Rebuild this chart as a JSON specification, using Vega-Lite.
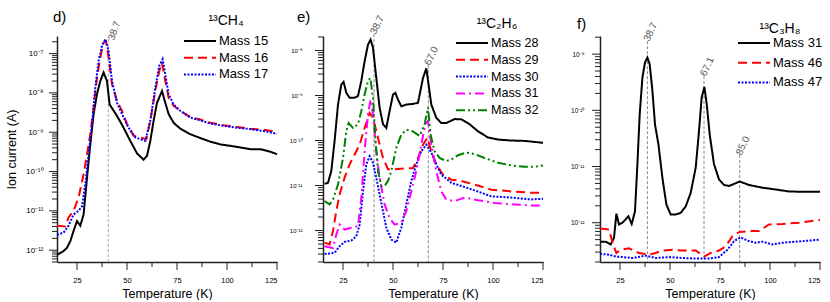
{
  "$schema": "https://vega.github.io/schema/vega-lite/v6.json",
  "padding": {"left": 5, "top": 10, "right": 0, "bottom": 0},
  "spacing": 8,
  "config": {
    "font": "Liberation Sans",
    "view": {"stroke": null},
    "axis": {"grid": false, "domain": true, "domainColor": "#222222", "domainWidth": 1.5, "ticks": false, "tickSize": 0, "labelColor": "#000000", "titleColor": "#000000", "titleFontWeight": "normal"},
    "legend": {"padding": 0, "symbolType": "stroke", "symbolSize": 1024, "symbolStrokeWidth": 2, "clipHeight": 13, "labelOffset": 2, "titleFontWeight": "normal", "titleColor": "#000", "labelColor": "#000", "titleAnchor": "middle", "titleLimit": 300, "labelLimit": 300},
    "title": {"fontWeight": "normal", "color": "#000", "anchor": "start", "fontSize": 15, "frame": "group"}
  },
  "datasets": {
    "d": [
      {"T":15,"I":7.6e-13,"s":"Mass 15"},{"T":18.3,"I":9.5e-13,"s":"Mass 15"},{"T":20,"I":1.15e-12,"s":"Mass 15"},{"T":21.65,"I":1.7e-12,"s":"Mass 15"},{"T":23.3,"I":3.1e-12,"s":"Mass 15"},{"T":25,"I":5.5e-12,"s":"Mass 15"},{"T":26.65,"I":4.2e-12,"s":"Mass 15"},{"T":28.3,"I":8.1e-12,"s":"Mass 15"},{"T":30,"I":6.9e-11,"s":"Mass 15"},{"T":31.65,"I":4.9e-10,"s":"Mass 15"},{"T":33.3,"I":2.9e-9,"s":"Mass 15"},{"T":35,"I":9.3e-9,"s":"Mass 15"},{"T":36.65,"I":2.0e-8,"s":"Mass 15"},{"T":38.3,"I":3.3e-8,"s":"Mass 15"},{"T":40,"I":2.0e-8,"s":"Mass 15"},{"T":41.3,"I":5.1e-9,"s":"Mass 15"},{"T":42.5,"I":4.1e-9,"s":"Mass 15"},{"T":45,"I":2.6e-9,"s":"Mass 15"},{"T":48.3,"I":1.3e-9,"s":"Mass 15"},{"T":51.65,"I":6.0e-10,"s":"Mass 15"},{"T":55,"I":2.9e-10,"s":"Mass 15"},{"T":58.3,"I":2.0e-10,"s":"Mass 15"},{"T":60,"I":2.5e-10,"s":"Mass 15"},{"T":61.65,"I":6.0e-10,"s":"Mass 15"},{"T":63.3,"I":1.95e-9,"s":"Mass 15"},{"T":65,"I":5.6e-9,"s":"Mass 15"},{"T":67.5,"I":1.12e-8,"s":"Mass 15"},{"T":69.15,"I":5.6e-9,"s":"Mass 15"},{"T":70.8,"I":2.9e-9,"s":"Mass 15"},{"T":73.3,"I":1.74e-9,"s":"Mass 15"},{"T":76.65,"I":1.23e-9,"s":"Mass 15"},{"T":81.65,"I":8.9e-10,"s":"Mass 15"},{"T":86.65,"I":7.1e-10,"s":"Mass 15"},{"T":91.65,"I":5.75e-10,"s":"Mass 15"},{"T":96.65,"I":4.9e-10,"s":"Mass 15"},{"T":101.65,"I":4.5e-10,"s":"Mass 15"},{"T":106.65,"I":4.1e-10,"s":"Mass 15"},{"T":111.65,"I":3.7e-10,"s":"Mass 15"},{"T":116.65,"I":3.7e-10,"s":"Mass 15"},{"T":121.65,"I":3.2e-10,"s":"Mass 15"},{"T":125,"I":2.75e-10,"s":"Mass 15"},
      {"T":15,"I":4.2e-12,"s":"Mass 16"},{"T":19.15,"I":4.0e-12,"s":"Mass 16"},{"T":20.8,"I":6.8e-12,"s":"Mass 16"},{"T":23.3,"I":1.0e-11,"s":"Mass 16"},{"T":25.8,"I":2.2e-11,"s":"Mass 16"},{"T":28.3,"I":8.5e-11,"s":"Mass 16"},{"T":30,"I":2.75e-10,"s":"Mass 16"},{"T":31.65,"I":8.9e-10,"s":"Mass 16"},{"T":33.3,"I":4.3e-9,"s":"Mass 16"},{"T":35,"I":2.45e-8,"s":"Mass 16"},{"T":36.65,"I":7.9e-8,"s":"Mass 16"},{"T":38.3,"I":1.9e-7,"s":"Mass 16"},{"T":39.5,"I":2.1e-7,"s":"Mass 16"},{"T":40.8,"I":7.9e-8,"s":"Mass 16"},{"T":42.5,"I":1.66e-8,"s":"Mass 16"},{"T":45,"I":6.3e-9,"s":"Mass 16"},{"T":47.5,"I":3.5e-9,"s":"Mass 16"},{"T":50,"I":1.6e-9,"s":"Mass 16"},{"T":53.3,"I":8.1e-10,"s":"Mass 16"},{"T":57.5,"I":7.1e-10,"s":"Mass 16"},{"T":59.65,"I":6.6e-10,"s":"Mass 16"},{"T":61.65,"I":1.95e-9,"s":"Mass 16"},{"T":64.15,"I":1.12e-8,"s":"Mass 16"},{"T":66.15,"I":3.6e-8,"s":"Mass 16"},{"T":67.5,"I":5.9e-8,"s":"Mass 16"},{"T":69.15,"I":2.0e-8,"s":"Mass 16"},{"T":70.8,"I":7.6e-9,"s":"Mass 16"},{"T":73.3,"I":4.7e-9,"s":"Mass 16"},{"T":76.65,"I":3.5e-9,"s":"Mass 16"},{"T":81.65,"I":2.45e-9,"s":"Mass 16"},{"T":86.65,"I":2.1e-9,"s":"Mass 16"},{"T":91.65,"I":1.74e-9,"s":"Mass 16"},{"T":98.3,"I":1.5e-9,"s":"Mass 16"},{"T":105,"I":1.35e-9,"s":"Mass 16"},{"T":111.65,"I":1.23e-9,"s":"Mass 16"},{"T":118.3,"I":1.15e-9,"s":"Mass 16"},{"T":125,"I":1.02e-9,"s":"Mass 16"},
      {"T":15,"I":2.45e-12,"s":"Mass 17"},{"T":18.3,"I":2.8e-12,"s":"Mass 17"},{"T":20.8,"I":4.2e-12,"s":"Mass 17"},{"T":23.3,"I":8.1e-12,"s":"Mass 17"},{"T":25.8,"I":1.0e-11,"s":"Mass 17"},{"T":27.5,"I":1.3e-11,"s":"Mass 17"},{"T":29.15,"I":4.7e-11,"s":"Mass 17"},{"T":30.8,"I":2.75e-10,"s":"Mass 17"},{"T":32.5,"I":1.6e-9,"s":"Mass 17"},{"T":34.15,"I":1.35e-8,"s":"Mass 17"},{"T":35.8,"I":6.5e-8,"s":"Mass 17"},{"T":37.5,"I":1.6e-7,"s":"Mass 17"},{"T":39.15,"I":2.3e-7,"s":"Mass 17"},{"T":40.8,"I":1.17e-7,"s":"Mass 17"},{"T":42.5,"I":2.0e-8,"s":"Mass 17"},{"T":45,"I":5.6e-9,"s":"Mass 17"},{"T":47.5,"I":2.9e-9,"s":"Mass 17"},{"T":50.8,"I":1.3e-9,"s":"Mass 17"},{"T":54.15,"I":7.4e-10,"s":"Mass 17"},{"T":59.15,"I":6.0e-10,"s":"Mass 17"},{"T":61.65,"I":1.95e-9,"s":"Mass 17"},{"T":64.15,"I":1.35e-8,"s":"Mass 17"},{"T":66.15,"I":4.9e-8,"s":"Mass 17"},{"T":67.8,"I":7.2e-8,"s":"Mass 17"},{"T":69.15,"I":2.95e-8,"s":"Mass 17"},{"T":70.8,"I":9.3e-9,"s":"Mass 17"},{"T":73.3,"I":5.1e-9,"s":"Mass 17"},{"T":76.65,"I":3.5e-9,"s":"Mass 17"},{"T":81.65,"I":2.35e-9,"s":"Mass 17"},{"T":86.65,"I":2.0e-9,"s":"Mass 17"},{"T":91.65,"I":1.66e-9,"s":"Mass 17"},{"T":98.3,"I":1.45e-9,"s":"Mass 17"},{"T":105,"I":1.3e-9,"s":"Mass 17"},{"T":111.65,"I":1.2e-9,"s":"Mass 17"},{"T":118.3,"I":1.07e-9,"s":"Mass 17"},{"T":125,"I":9.1e-10,"s":"Mass 17"}
    ],
    "e": [
      {"T":15.8,"I":1.1e-11,"s":"Mass 28"},{"T":17.5,"I":1.15e-11,"s":"Mass 28"},{"T":19.15,"I":2.1e-11,"s":"Mass 28"},{"T":20.8,"I":9.8e-11,"s":"Mass 28"},{"T":22.5,"I":6.3e-10,"s":"Mass 28"},{"T":24.15,"I":1.74e-9,"s":"Mass 28"},{"T":25.3,"I":2.0e-9,"s":"Mass 28"},{"T":26.65,"I":1.15e-9,"s":"Mass 28"},{"T":28.3,"I":8.9e-10,"s":"Mass 28"},{"T":30.8,"I":8.9e-10,"s":"Mass 28"},{"T":32.5,"I":9.8e-10,"s":"Mass 28"},{"T":34.15,"I":2.1e-9,"s":"Mass 28"},{"T":35.8,"I":5.75e-9,"s":"Mass 28"},{"T":37.5,"I":1.35e-8,"s":"Mass 28"},{"T":38.8,"I":1.74e-8,"s":"Mass 28"},{"T":40,"I":1.15e-8,"s":"Mass 28"},{"T":41.65,"I":2.45e-9,"s":"Mass 28"},{"T":43.3,"I":5.4e-10,"s":"Mass 28"},{"T":45,"I":2.3e-10,"s":"Mass 28"},{"T":46.65,"I":1.9e-10,"s":"Mass 28"},{"T":48.3,"I":4.5e-10,"s":"Mass 28"},{"T":50,"I":1.05e-9,"s":"Mass 28"},{"T":51.15,"I":1.15e-9,"s":"Mass 28"},{"T":52.5,"I":8.1e-10,"s":"Mass 28"},{"T":54.15,"I":5.75e-10,"s":"Mass 28"},{"T":56.65,"I":6.3e-10,"s":"Mass 28"},{"T":60,"I":6.5e-10,"s":"Mass 28"},{"T":62.5,"I":6.9e-10,"s":"Mass 28"},{"T":65,"I":2.45e-9,"s":"Mass 28"},{"T":66.65,"I":4.0e-9,"s":"Mass 28"},{"T":67.8,"I":1.74e-9,"s":"Mass 28"},{"T":69.15,"I":6.3e-10,"s":"Mass 28"},{"T":71.65,"I":3.2e-10,"s":"Mass 28"},{"T":74.15,"I":2.45e-10,"s":"Mass 28"},{"T":76.65,"I":2.45e-10,"s":"Mass 28"},{"T":80.8,"I":3.0e-10,"s":"Mass 28"},{"T":84.15,"I":2.95e-10,"s":"Mass 28"},{"T":88.3,"I":2.3e-10,"s":"Mass 28"},{"T":92.5,"I":1.6e-10,"s":"Mass 28"},{"T":97.5,"I":1.17e-10,"s":"Mass 28"},{"T":102.5,"I":1.05e-10,"s":"Mass 28"},{"T":109.15,"I":1.0e-10,"s":"Mass 28"},{"T":115.8,"I":9.8e-11,"s":"Mass 28"},{"T":125,"I":8.9e-11,"s":"Mass 28"},
      {"T":15.8,"I":5.4e-13,"s":"Mass 29"},{"T":18.3,"I":4.9e-13,"s":"Mass 29"},{"T":20,"I":9.8e-13,"s":"Mass 29"},{"T":21.65,"I":2.7e-12,"s":"Mass 29"},{"T":23.3,"I":6.3e-12,"s":"Mass 29"},{"T":25.8,"I":1.5e-11,"s":"Mass 29"},{"T":28.3,"I":2.95e-11,"s":"Mass 29"},{"T":30.8,"I":4.9e-11,"s":"Mass 29"},{"T":33.3,"I":8.1e-11,"s":"Mass 29"},{"T":35.8,"I":1.9e-10,"s":"Mass 29"},{"T":38.3,"I":4.1e-10,"s":"Mass 29"},{"T":40,"I":3.2e-10,"s":"Mass 29"},{"T":42.5,"I":1.15e-10,"s":"Mass 29"},{"T":45,"I":4.1e-11,"s":"Mass 29"},{"T":47.5,"I":2.3e-11,"s":"Mass 29"},{"T":50.8,"I":2.3e-11,"s":"Mass 29"},{"T":55.8,"I":2.4e-11,"s":"Mass 29"},{"T":60,"I":2.45e-11,"s":"Mass 29"},{"T":62.5,"I":4.1e-11,"s":"Mass 29"},{"T":65,"I":8.1e-11,"s":"Mass 29"},{"T":67.15,"I":1.15e-10,"s":"Mass 29"},{"T":69.15,"I":5.75e-11,"s":"Mass 29"},{"T":71.65,"I":2.95e-11,"s":"Mass 29"},{"T":75,"I":1.74e-11,"s":"Mass 29"},{"T":79.15,"I":1.35e-11,"s":"Mass 29"},{"T":84.15,"I":1.26e-11,"s":"Mass 29"},{"T":90.8,"I":1.05e-11,"s":"Mass 29"},{"T":99.15,"I":8.1e-12,"s":"Mass 29"},{"T":109.15,"I":7.4e-12,"s":"Mass 29"},{"T":119.15,"I":6.9e-12,"s":"Mass 29"},{"T":125,"I":6.9e-12,"s":"Mass 29"},
      {"T":15.8,"I":3.0e-13,"s":"Mass 30"},{"T":20.8,"I":3.2e-13,"s":"Mass 30"},{"T":23.3,"I":4.5e-13,"s":"Mass 30"},{"T":25.8,"I":5.6e-13,"s":"Mass 30"},{"T":29.15,"I":6.0e-13,"s":"Mass 30"},{"T":31.65,"I":7.4e-13,"s":"Mass 30"},{"T":33.3,"I":1.35e-12,"s":"Mass 30"},{"T":35,"I":7.4e-12,"s":"Mass 30"},{"T":36.65,"I":2.95e-11,"s":"Mass 30"},{"T":38.3,"I":4.5e-11,"s":"Mass 30"},{"T":40,"I":3.2e-11,"s":"Mass 30"},{"T":41.65,"I":1.5e-11,"s":"Mass 30"},{"T":43.3,"I":6.3e-12,"s":"Mass 30"},{"T":45,"I":2.7e-12,"s":"Mass 30"},{"T":46.65,"I":1.15e-12,"s":"Mass 30"},{"T":49.15,"I":6.3e-13,"s":"Mass 30"},{"T":51.65,"I":5.4e-13,"s":"Mass 30"},{"T":54.15,"I":1.15e-12,"s":"Mass 30"},{"T":56.65,"I":3.8e-12,"s":"Mass 30"},{"T":59.15,"I":1.26e-11,"s":"Mass 30"},{"T":61.65,"I":2.95e-11,"s":"Mass 30"},{"T":64.15,"I":5.75e-11,"s":"Mass 30"},{"T":66.65,"I":8.1e-11,"s":"Mass 30"},{"T":69.15,"I":5.4e-11,"s":"Mass 30"},{"T":71.65,"I":2.95e-11,"s":"Mass 30"},{"T":74.15,"I":1.74e-11,"s":"Mass 30"},{"T":79.15,"I":1.15e-11,"s":"Mass 30"},{"T":84.15,"I":9.8e-12,"s":"Mass 30"},{"T":90.8,"I":7.8e-12,"s":"Mass 30"},{"T":99.15,"I":5.75e-12,"s":"Mass 30"},{"T":109.15,"I":5.4e-12,"s":"Mass 30"},{"T":119.15,"I":4.9e-12,"s":"Mass 30"},{"T":125,"I":5.1e-12,"s":"Mass 30"},
      {"T":15.8,"I":4.5e-13,"s":"Mass 31"},{"T":20,"I":4.1e-13,"s":"Mass 31"},{"T":21.65,"I":8.1e-13,"s":"Mass 31"},{"T":23.3,"I":1.35e-12,"s":"Mass 31"},{"T":25.8,"I":1.05e-12,"s":"Mass 31"},{"T":29.15,"I":1.15e-12,"s":"Mass 31"},{"T":32.5,"I":1.26e-12,"s":"Mass 31"},{"T":34.15,"I":5.4e-12,"s":"Mass 31"},{"T":35.8,"I":5.75e-11,"s":"Mass 31"},{"T":37.5,"I":3.8e-10,"s":"Mass 31"},{"T":38.8,"I":8.1e-10,"s":"Mass 31"},{"T":40,"I":3.8e-10,"s":"Mass 31"},{"T":41.65,"I":5.75e-11,"s":"Mass 31"},{"T":43.3,"I":1.5e-11,"s":"Mass 31"},{"T":45.8,"I":3.8e-12,"s":"Mass 31"},{"T":48.3,"I":1.9e-12,"s":"Mass 31"},{"T":50.8,"I":1.35e-12,"s":"Mass 31"},{"T":54.15,"I":1.5e-12,"s":"Mass 31"},{"T":56.65,"I":2.7e-12,"s":"Mass 31"},{"T":59.15,"I":7.4e-12,"s":"Mass 31"},{"T":61.65,"I":2.1e-11,"s":"Mass 31"},{"T":64.15,"I":8.1e-11,"s":"Mass 31"},{"T":66.15,"I":2.3e-10,"s":"Mass 31"},{"T":67.5,"I":2.7e-10,"s":"Mass 31"},{"T":69.15,"I":8.1e-11,"s":"Mass 31"},{"T":71.65,"I":2.1e-11,"s":"Mass 31"},{"T":74.15,"I":7.4e-12,"s":"Mass 31"},{"T":76.65,"I":4.9e-12,"s":"Mass 31"},{"T":80.8,"I":4.5e-12,"s":"Mass 31"},{"T":85.8,"I":5.4e-12,"s":"Mass 31"},{"T":92.5,"I":4.7e-12,"s":"Mass 31"},{"T":100.8,"I":4.1e-12,"s":"Mass 31"},{"T":110.8,"I":3.8e-12,"s":"Mass 31"},{"T":119.15,"I":3.6e-12,"s":"Mass 31"},{"T":125,"I":3.6e-12,"s":"Mass 31"},
      {"T":15.8,"I":4.5e-12,"s":"Mass 32"},{"T":18.3,"I":3.8e-12,"s":"Mass 32"},{"T":20,"I":4.9e-12,"s":"Mass 32"},{"T":22.5,"I":1.05e-11,"s":"Mass 32"},{"T":25,"I":4.1e-11,"s":"Mass 32"},{"T":26.65,"I":1.6e-10,"s":"Mass 32"},{"T":27.8,"I":2.45e-10,"s":"Mass 32"},{"T":30,"I":1.9e-10,"s":"Mass 32"},{"T":32.5,"I":2.3e-10,"s":"Mass 32"},{"T":34.15,"I":4.5e-10,"s":"Mass 32"},{"T":35.8,"I":1.05e-9,"s":"Mass 32"},{"T":37.5,"I":2.1e-9,"s":"Mass 32"},{"T":38.65,"I":2.45e-9,"s":"Mass 32"},{"T":40,"I":8.9e-10,"s":"Mass 32"},{"T":41.15,"I":1.15e-10,"s":"Mass 32"},{"T":42.5,"I":2.1e-11,"s":"Mass 32"},{"T":44.15,"I":9.8e-12,"s":"Mass 32"},{"T":45.8,"I":9.8e-12,"s":"Mass 32"},{"T":47.5,"I":1.26e-11,"s":"Mass 32"},{"T":49.15,"I":2.1e-11,"s":"Mass 32"},{"T":51.65,"I":6.9e-11,"s":"Mass 32"},{"T":54.15,"I":1.35e-10,"s":"Mass 32"},{"T":56.65,"I":1.74e-10,"s":"Mass 32"},{"T":60,"I":1.6e-10,"s":"Mass 32"},{"T":63.3,"I":1.26e-10,"s":"Mass 32"},{"T":65.8,"I":2.3e-10,"s":"Mass 32"},{"T":67.5,"I":5.4e-10,"s":"Mass 32"},{"T":68.8,"I":1.35e-10,"s":"Mass 32"},{"T":70.8,"I":5.75e-11,"s":"Mass 32"},{"T":73.3,"I":4.1e-11,"s":"Mass 32"},{"T":76.65,"I":3.5e-11,"s":"Mass 32"},{"T":79.15,"I":3.8e-11,"s":"Mass 32"},{"T":82.5,"I":4.7e-11,"s":"Mass 32"},{"T":86.65,"I":5.4e-11,"s":"Mass 32"},{"T":90.8,"I":5.0e-11,"s":"Mass 32"},{"T":95.8,"I":4.1e-11,"s":"Mass 32"},{"T":102.5,"I":3.2e-11,"s":"Mass 32"},{"T":109.15,"I":2.8e-11,"s":"Mass 32"},{"T":115.8,"I":2.6e-11,"s":"Mass 32"},{"T":120.8,"I":2.6e-11,"s":"Mass 32"},{"T":125,"I":2.8e-11,"s":"Mass 32"}
    ],
    "f": [
      {"T":15.35,"I":4.6e-13,"s":"Mass 31"},{"T":17.85,"I":4.6e-13,"s":"Mass 31"},{"T":20.35,"I":4.1e-13,"s":"Mass 31"},{"T":22,"I":5.4e-13,"s":"Mass 31"},{"T":23.2,"I":1.45e-12,"s":"Mass 31"},{"T":24.5,"I":9.3e-13,"s":"Mass 31"},{"T":26.2,"I":1.0e-12,"s":"Mass 31"},{"T":27.85,"I":1.15e-12,"s":"Mass 31"},{"T":29.2,"I":1.3e-12,"s":"Mass 31"},{"T":30.85,"I":9.5e-13,"s":"Mass 31"},{"T":32.5,"I":1.6e-12,"s":"Mass 31"},{"T":33.7,"I":1.1e-11,"s":"Mass 31"},{"T":34.85,"I":8.5e-11,"s":"Mass 31"},{"T":36.2,"I":3.8e-10,"s":"Mass 31"},{"T":37.5,"I":7.1e-10,"s":"Mass 31"},{"T":38.7,"I":8.7e-10,"s":"Mass 31"},{"T":39.85,"I":6.6e-10,"s":"Mass 31"},{"T":41.2,"I":2.25e-10,"s":"Mass 31"},{"T":42.5,"I":5.6e-11,"s":"Mass 31"},{"T":44.2,"I":2.5e-11,"s":"Mass 31"},{"T":46.2,"I":6.3e-12,"s":"Mass 31"},{"T":48.2,"I":2.1e-12,"s":"Mass 31"},{"T":50.35,"I":1.4e-12,"s":"Mass 31"},{"T":52.85,"I":1.4e-12,"s":"Mass 31"},{"T":55.35,"I":1.5e-12,"s":"Mass 31"},{"T":57.85,"I":1.95e-12,"s":"Mass 31"},{"T":60.35,"I":3.4e-12,"s":"Mass 31"},{"T":62.85,"I":9.5e-12,"s":"Mass 31"},{"T":64.5,"I":4.3e-11,"s":"Mass 31"},{"T":65.85,"I":1.7e-10,"s":"Mass 31"},{"T":67.2,"I":2.6e-10,"s":"Mass 31"},{"T":68.35,"I":1.3e-10,"s":"Mass 31"},{"T":69.85,"I":3.7e-11,"s":"Mass 31"},{"T":72,"I":1.1e-11,"s":"Mass 31"},{"T":74.5,"I":5.9e-12,"s":"Mass 31"},{"T":77,"I":4.7e-12,"s":"Mass 31"},{"T":79.5,"I":4.5e-12,"s":"Mass 31"},{"T":82,"I":4.9e-12,"s":"Mass 31"},{"T":84.85,"I":5.4e-12,"s":"Mass 31"},{"T":89.5,"I":4.7e-12,"s":"Mass 31"},{"T":96.2,"I":4.2e-12,"s":"Mass 31"},{"T":102.85,"I":3.9e-12,"s":"Mass 31"},{"T":109.5,"I":3.6e-12,"s":"Mass 31"},{"T":116.2,"I":3.55e-12,"s":"Mass 31"},{"T":125,"I":3.55e-12,"s":"Mass 31"},
      {"T":15,"I":7.9e-13,"s":"Mass 46"},{"T":19.5,"I":7.6e-13,"s":"Mass 46"},{"T":21.5,"I":4.1e-13,"s":"Mass 46"},{"T":23.2,"I":2.9e-13,"s":"Mass 46"},{"T":25.35,"I":3.3e-13,"s":"Mass 46"},{"T":29.5,"I":3.5e-13,"s":"Mass 46"},{"T":34.5,"I":2.9e-13,"s":"Mass 46"},{"T":39.5,"I":2.7e-13,"s":"Mass 46"},{"T":42.85,"I":2.9e-13,"s":"Mass 46"},{"T":46.2,"I":3.2e-13,"s":"Mass 46"},{"T":51.2,"I":3.3e-13,"s":"Mass 46"},{"T":56.2,"I":3.2e-13,"s":"Mass 46"},{"T":62.85,"I":3.2e-13,"s":"Mass 46"},{"T":67,"I":2.5e-13,"s":"Mass 46"},{"T":70.35,"I":2.9e-13,"s":"Mass 46"},{"T":74.5,"I":3.2e-13,"s":"Mass 46"},{"T":77.85,"I":3.8e-13,"s":"Mass 46"},{"T":81.2,"I":5.75e-13,"s":"Mass 46"},{"T":84.5,"I":6.8e-13,"s":"Mass 46"},{"T":89.5,"I":7.1e-13,"s":"Mass 46"},{"T":94.5,"I":7.1e-13,"s":"Mass 46"},{"T":99.5,"I":9.3e-13,"s":"Mass 46"},{"T":106.2,"I":9.5e-13,"s":"Mass 46"},{"T":114.5,"I":1.0e-12,"s":"Mass 46"},{"T":125,"I":1.12e-12,"s":"Mass 46"},
      {"T":15,"I":2.8e-13,"s":"Mass 47"},{"T":19.5,"I":2.7e-13,"s":"Mass 47"},{"T":22.85,"I":2.5e-13,"s":"Mass 47"},{"T":26.2,"I":2.45e-13,"s":"Mass 47"},{"T":31.2,"I":2.35e-13,"s":"Mass 47"},{"T":37.85,"I":2.6e-13,"s":"Mass 47"},{"T":42.85,"I":2.35e-13,"s":"Mass 47"},{"T":49.5,"I":2.45e-13,"s":"Mass 47"},{"T":56.2,"I":2.35e-13,"s":"Mass 47"},{"T":62.85,"I":2.3e-13,"s":"Mass 47"},{"T":69.5,"I":2.3e-13,"s":"Mass 47"},{"T":74.5,"I":2.45e-13,"s":"Mass 47"},{"T":78.7,"I":3.3e-13,"s":"Mass 47"},{"T":82,"I":4.7e-13,"s":"Mass 47"},{"T":85.35,"I":5.5e-13,"s":"Mass 47"},{"T":88.7,"I":4.8e-13,"s":"Mass 47"},{"T":92.85,"I":4.4e-13,"s":"Mass 47"},{"T":96.2,"I":4.6e-13,"s":"Mass 47"},{"T":101.2,"I":4.1e-13,"s":"Mass 47"},{"T":106.2,"I":4.4e-13,"s":"Mass 47"},{"T":112.85,"I":4.6e-13,"s":"Mass 47"},{"T":119.5,"I":4.8e-13,"s":"Mass 47"},{"T":125,"I":5.0e-13,"s":"Mass 47"}
    ],
    "rd": [{"T":40.65,"I":2.35e-7,"label":"38.7"}],
    "re": [{"T":40.5,"I":2.3e-8,"label":"38.7"},{"T":67.65,"I":4.7e-9,"label":"67.0"}],
    "rf": [{"T":38.7,"I":1.7e-9,"label":"38.7"},{"T":67.0,"I":4.1e-10,"label":"67.1"},{"T":84.85,"I":1.6e-11,"label":"85.0"}],
    "xdmaj": [{"T":25,"I":3.13e-13},{"T":50,"I":3.13e-13},{"T":75,"I":3.13e-13},{"T":100,"I":3.13e-13},{"T":125,"I":3.13e-13}],
    "xdmin": [{"T":37.5,"I":3.73e-13},{"T":62.5,"I":3.73e-13},{"T":87.5,"I":3.73e-13},{"T":112.5,"I":3.73e-13}],
    "xemaj": [{"T":25,"I":1.33e-13},{"T":50,"I":1.33e-13},{"T":75,"I":1.33e-13},{"T":100,"I":1.33e-13},{"T":125,"I":1.33e-13}],
    "xemin": [{"T":37.5,"I":1.55e-13},{"T":62.5,"I":1.55e-13},{"T":87.5,"I":1.55e-13},{"T":112.5,"I":1.55e-13}],
    "xfmaj": [{"T":25,"I":1.44e-13},{"T":50,"I":1.44e-13},{"T":75,"I":1.44e-13},{"T":100,"I":1.44e-13},{"T":125,"I":1.44e-13}],
    "xfmin": [{"T":37.5,"I":1.63e-13},{"T":62.5,"I":1.63e-13},{"T":87.5,"I":1.63e-13},{"T":112.5,"I":1.63e-13}],
    "ydmaj": [{"T":11,"I":1e-12},{"T":11,"I":1e-11},{"T":11,"I":1e-10},{"T":11,"I":1e-9},{"T":11,"I":1e-8},{"T":11,"I":1e-7}],
    "ydmin": [{"T":12.5,"I":5e-13},{"T":12.5,"I":6e-13},{"T":12.5,"I":7e-13},{"T":12.5,"I":8e-13},{"T":12.5,"I":9e-13},{"T":12.5,"I":2e-12},{"T":12.5,"I":3e-12},{"T":12.5,"I":4e-12},{"T":12.5,"I":5e-12},{"T":12.5,"I":6e-12},{"T":12.5,"I":7e-12},{"T":12.5,"I":8e-12},{"T":12.5,"I":9e-12},{"T":12.5,"I":2e-11},{"T":12.5,"I":3e-11},{"T":12.5,"I":4e-11},{"T":12.5,"I":5e-11},{"T":12.5,"I":6e-11},{"T":12.5,"I":7e-11},{"T":12.5,"I":8e-11},{"T":12.5,"I":9e-11},{"T":12.5,"I":2e-10},{"T":12.5,"I":3e-10},{"T":12.5,"I":4e-10},{"T":12.5,"I":5e-10},{"T":12.5,"I":6e-10},{"T":12.5,"I":7e-10},{"T":12.5,"I":8e-10},{"T":12.5,"I":9e-10},{"T":12.5,"I":2e-9},{"T":12.5,"I":3e-9},{"T":12.5,"I":4e-9},{"T":12.5,"I":5e-9},{"T":12.5,"I":6e-9},{"T":12.5,"I":7e-9},{"T":12.5,"I":8e-9},{"T":12.5,"I":9e-9},{"T":12.5,"I":2e-8},{"T":12.5,"I":3e-8},{"T":12.5,"I":4e-8},{"T":12.5,"I":5e-8},{"T":12.5,"I":6e-8},{"T":12.5,"I":7e-8},{"T":12.5,"I":8e-8},{"T":12.5,"I":9e-8},{"T":12.5,"I":2e-7}],
    "yemaj": [{"T":11,"I":1e-12},{"T":11,"I":1e-11},{"T":11,"I":1e-10},{"T":11,"I":1e-9},{"T":11,"I":1e-8}],
    "yemin": [{"T":12.5,"I":2e-13},{"T":12.5,"I":3e-13},{"T":12.5,"I":4e-13},{"T":12.5,"I":5e-13},{"T":12.5,"I":6e-13},{"T":12.5,"I":7e-13},{"T":12.5,"I":8e-13},{"T":12.5,"I":9e-13},{"T":12.5,"I":2e-12},{"T":12.5,"I":3e-12},{"T":12.5,"I":4e-12},{"T":12.5,"I":5e-12},{"T":12.5,"I":6e-12},{"T":12.5,"I":7e-12},{"T":12.5,"I":8e-12},{"T":12.5,"I":9e-12},{"T":12.5,"I":2e-11},{"T":12.5,"I":3e-11},{"T":12.5,"I":4e-11},{"T":12.5,"I":5e-11},{"T":12.5,"I":6e-11},{"T":12.5,"I":7e-11},{"T":12.5,"I":8e-11},{"T":12.5,"I":9e-11},{"T":12.5,"I":2e-10},{"T":12.5,"I":3e-10},{"T":12.5,"I":4e-10},{"T":12.5,"I":5e-10},{"T":12.5,"I":6e-10},{"T":12.5,"I":7e-10},{"T":12.5,"I":8e-10},{"T":12.5,"I":9e-10},{"T":12.5,"I":2e-9},{"T":12.5,"I":3e-9},{"T":12.5,"I":4e-9},{"T":12.5,"I":5e-9},{"T":12.5,"I":6e-9},{"T":12.5,"I":7e-9},{"T":12.5,"I":8e-9},{"T":12.5,"I":9e-9},{"T":12.5,"I":2e-8}],
    "yfmaj": [{"T":11,"I":1e-12},{"T":11,"I":1e-11},{"T":11,"I":1e-10},{"T":11,"I":1e-9}],
    "yfmin": [{"T":12.5,"I":2e-13},{"T":12.5,"I":3e-13},{"T":12.5,"I":4e-13},{"T":12.5,"I":5e-13},{"T":12.5,"I":6e-13},{"T":12.5,"I":7e-13},{"T":12.5,"I":8e-13},{"T":12.5,"I":9e-13},{"T":12.5,"I":2e-12},{"T":12.5,"I":3e-12},{"T":12.5,"I":4e-12},{"T":12.5,"I":5e-12},{"T":12.5,"I":6e-12},{"T":12.5,"I":7e-12},{"T":12.5,"I":8e-12},{"T":12.5,"I":9e-12},{"T":12.5,"I":2e-11},{"T":12.5,"I":3e-11},{"T":12.5,"I":4e-11},{"T":12.5,"I":5e-11},{"T":12.5,"I":6e-11},{"T":12.5,"I":7e-11},{"T":12.5,"I":8e-11},{"T":12.5,"I":9e-11},{"T":12.5,"I":2e-10},{"T":12.5,"I":3e-10},{"T":12.5,"I":4e-10},{"T":12.5,"I":5e-10},{"T":12.5,"I":6e-10},{"T":12.5,"I":7e-10},{"T":12.5,"I":8e-10},{"T":12.5,"I":9e-10},{"T":12.5,"I":2e-9}]
  },
  "resolve": {"scale": {"x": "independent", "y": "independent", "color": "independent", "strokeDash": "independent"}, "legend": {"color": "independent", "strokeDash": "independent"}},
  "hconcat": [
    {
      "width": 220, "height": 226,
      "title": {"text": "d)", "dx": -4, "dy": 15},
      "encoding": {
        "x": {"field": "T", "type": "quantitative", "scale": {"domain": [15, 125]}, "axis": {"title": "Temperature (K)", "titleFontSize": 12.5, "titlePadding": 4, "values": [25, 50, 75, 100, 125], "labelFontSize": 7.5, "labelPadding": 14, "domain": true, "domainColor": "#222222", "domainWidth": 1.5}},
        "y": {"field": "I", "type": "quantitative", "scale": {"type": "log", "domain": [5e-13, 2.8e-7]}, "axis": {"title": "Ion current (A)", "titleFontSize": 12.5, "titlePadding": 7, "values": [1e-12, 1e-11, 1e-10, 1e-9, 1e-8, 1e-7], "labelFontSize": 8, "labelPadding": 14, "domain": true, "domainColor": "#222222", "domainWidth": 1.5, "labelExpr": "'10' + replace(replace(replace(replace(replace(replace(replace(replace(replace('' + round(log(datum.value)/LN10), '-', '⁻'), regexp('1','g'), '¹'), '0', '⁰'), '2', '²'), '6', '⁶'), '7', '⁷'), '8', '⁸'), '9', '⁹'), '3', '³')"}}
      },
      "layer": [
        {"data": {"name": "rd"}, "mark": {"type": "rule", "color": "#aaaaaa", "strokeDash": [3, 2], "strokeWidth": 1},
         "encoding": {"y2": {"datum": 5e-13}}},
        {"data": {"name": "rd"}, "mark": {"type": "text", "angle": 290, "align": "left", "baseline": "middle", "fontSize": 10, "color": "#555555", "dy": 3},
         "encoding": {"text": {"field": "label"}}},
        {"data": {"name": "d"}, "mark": {"type": "line", "strokeWidth": 2},
         "encoding": {
           "color": {"field": "s", "type": "nominal", "scale": {"domain": ["Mass 15", "Mass 16", "Mass 17"], "range": ["#000000", "#ff0000", "#0000ff"]}, "legend": {"title": "¹³CH₄", "orient": "none", "legendX": 126, "legendY": -22, "titleFontSize": 14, "labelFontSize": 13, "titlePadding": 6.5, "rowPadding": 2.7}},
           "strokeDash": {"field": "s", "type": "nominal", "scale": {"domain": ["Mass 15", "Mass 16", "Mass 17"], "range": [[1, 0], [9, 5], [2, 1.5]]}, "legend": {"title": "¹³CH₄", "orient": "none", "legendX": 126, "legendY": -22, "titleFontSize": 14, "labelFontSize": 13, "titlePadding": 6.5, "rowPadding": 2.7}}
         }},
        {"data": {"name": "ydmaj"}, "mark": {"type": "rule", "color": "#222222", "strokeWidth": 1}, "encoding": {"x2": {"datum": 15}}},
        {"data": {"name": "ydmin"}, "mark": {"type": "rule", "color": "#222222", "strokeWidth": 1}, "encoding": {"x2": {"datum": 15}}},
        {"data": {"name": "xdmaj"}, "mark": {"type": "rule", "color": "#222222", "strokeWidth": 1}, "encoding": {"y2": {"datum": 5e-13}}},
        {"data": {"name": "xdmin"}, "mark": {"type": "rule", "color": "#222222", "strokeWidth": 1}, "encoding": {"y2": {"datum": 5e-13}}}
      ]
    },
    {
      "width": 220, "height": 226,
      "title": {"text": "e)", "dx": -26, "dy": 15},
      "encoding": {
        "x": {"field": "T", "type": "quantitative", "scale": {"domain": [15, 125]}, "axis": {"title": "Temperature (K)", "titleFontSize": 12.5, "titlePadding": 4, "values": [25, 50, 75, 100, 125], "labelFontSize": 7.5, "labelPadding": 14, "domain": true, "domainColor": "#222222", "domainWidth": 1.5}},
        "y": {"field": "I", "type": "quantitative", "scale": {"type": "log", "domain": [2e-13, 2.1e-8]}, "axis": {"title": null, "values": [1e-12, 1e-11, 1e-10, 1e-9, 1e-8], "labelFontSize": 6, "labelPadding": 21, "domain": true, "domainColor": "#222222", "domainWidth": 1.5, "labelExpr": "'10' + replace(replace(replace(replace(replace(replace(replace(replace(replace('' + round(log(datum.value)/LN10), '-', '⁻'), regexp('1','g'), '¹'), '0', '⁰'), '2', '²'), '6', '⁶'), '7', '⁷'), '8', '⁸'), '9', '⁹'), '3', '³')"}}
      },
      "layer": [
        {"data": {"name": "re"}, "mark": {"type": "rule", "color": "#888888", "strokeDash": [3, 2], "strokeWidth": 1},
         "encoding": {"y2": {"datum": 2e-13}}},
        {"data": {"name": "re"}, "mark": {"type": "text", "angle": 295, "align": "left", "baseline": "middle", "fontSize": 10, "color": "#555555", "dy": -1},
         "encoding": {"text": {"field": "label"}}},
        {"data": {"name": "e"}, "mark": {"type": "line", "strokeWidth": 2},
         "encoding": {
           "color": {"field": "s", "type": "nominal", "scale": {"domain": ["Mass 28", "Mass 29", "Mass 30", "Mass 31", "Mass 32"], "range": ["#000000", "#ff0000", "#0000ff", "#ff00ff", "#008000"]}, "legend": {"title": "¹³C₂H₆", "orient": "none", "legendX": 132, "legendY": -19, "titleFontSize": 14, "labelFontSize": 12.6, "titlePadding": 5.5, "rowPadding": 2.8}},
           "strokeDash": {"field": "s", "type": "nominal", "scale": {"domain": ["Mass 28", "Mass 29", "Mass 30", "Mass 31", "Mass 32"], "range": [[1, 0], [9, 5], [2, 1.5], [9, 4, 2, 4], [9, 3, 2, 3, 2, 3]]}, "legend": {"title": "¹³C₂H₆", "orient": "none", "legendX": 132, "legendY": -19, "titleFontSize": 14, "labelFontSize": 12.6, "titlePadding": 5.5, "rowPadding": 2.8}}
         }},
        {"data": {"name": "yemaj"}, "mark": {"type": "rule", "color": "#222222", "strokeWidth": 1}, "encoding": {"x2": {"datum": 15}}},
        {"data": {"name": "yemin"}, "mark": {"type": "rule", "color": "#222222", "strokeWidth": 1}, "encoding": {"x2": {"datum": 15}}},
        {"data": {"name": "xemaj"}, "mark": {"type": "rule", "color": "#222222", "strokeWidth": 1}, "encoding": {"y2": {"datum": 2e-13}}},
        {"data": {"name": "xemin"}, "mark": {"type": "rule", "color": "#222222", "strokeWidth": 1}, "encoding": {"y2": {"datum": 2e-13}}}
      ]
    },
    {
      "width": 220, "height": 226,
      "title": {"text": "f)", "dx": -23, "dy": 15},
      "encoding": {
        "x": {"field": "T", "type": "quantitative", "scale": {"domain": [15, 125]}, "axis": {"title": "Temperature (K)", "titleFontSize": 12.5, "titlePadding": 4, "values": [25, 50, 75, 100, 125], "labelFontSize": 7.5, "labelPadding": 14, "domain": true, "domainColor": "#222222", "domainWidth": 1.5}},
        "y": {"field": "I", "type": "quantitative", "scale": {"type": "log", "domain": [2e-13, 2.1e-9]}, "axis": {"title": null, "minExtent": 45, "values": [1e-12, 1e-11, 1e-10, 1e-9], "labelFontSize": 6.5, "labelPadding": 16, "domain": true, "domainColor": "#222222", "domainWidth": 1.5, "labelExpr": "'10' + replace(replace(replace(replace(replace(replace(replace(replace(replace('' + round(log(datum.value)/LN10), '-', '⁻'), regexp('1','g'), '¹'), '0', '⁰'), '2', '²'), '6', '⁶'), '7', '⁷'), '8', '⁸'), '9', '⁹'), '3', '³')"}}
      },
      "layer": [
        {"data": {"name": "rf"}, "mark": {"type": "rule", "color": "#888888", "strokeDash": [3, 2], "strokeWidth": 1},
         "encoding": {"y2": {"datum": 2e-13}}},
        {"data": {"name": "rf"}, "mark": {"type": "text", "angle": 295, "align": "left", "baseline": "middle", "fontSize": 10, "color": "#555555", "dy": -1},
         "encoding": {"text": {"field": "label"}}},
        {"data": {"name": "f"}, "mark": {"type": "line", "strokeWidth": 2},
         "encoding": {
           "color": {"field": "s", "type": "nominal", "scale": {"domain": ["Mass 31", "Mass 46", "Mass 47"], "range": ["#000000", "#ff0000", "#0000ff"]}, "legend": {"title": "¹³C₃H₈", "orient": "none", "legendX": 137, "legendY": -14, "titleFontSize": 14, "labelFontSize": 13, "titlePadding": 0.5, "rowPadding": 5.7}},
           "strokeDash": {"field": "s", "type": "nominal", "scale": {"domain": ["Mass 31", "Mass 46", "Mass 47"], "range": [[1, 0], [9, 5], [2, 1.5]]}, "legend": {"title": "¹³C₃H₈", "orient": "none", "legendX": 137, "legendY": -14, "titleFontSize": 14, "labelFontSize": 13, "titlePadding": 0.5, "rowPadding": 5.7}}
         }},
        {"data": {"name": "yfmaj"}, "mark": {"type": "rule", "color": "#222222", "strokeWidth": 1}, "encoding": {"x2": {"datum": 15}}},
        {"data": {"name": "yfmin"}, "mark": {"type": "rule", "color": "#222222", "strokeWidth": 1}, "encoding": {"x2": {"datum": 15}}},
        {"data": {"name": "xfmaj"}, "mark": {"type": "rule", "color": "#222222", "strokeWidth": 1}, "encoding": {"y2": {"datum": 2e-13}}},
        {"data": {"name": "xfmin"}, "mark": {"type": "rule", "color": "#222222", "strokeWidth": 1}, "encoding": {"y2": {"datum": 2e-13}}}
      ]
    }
  ]
}
